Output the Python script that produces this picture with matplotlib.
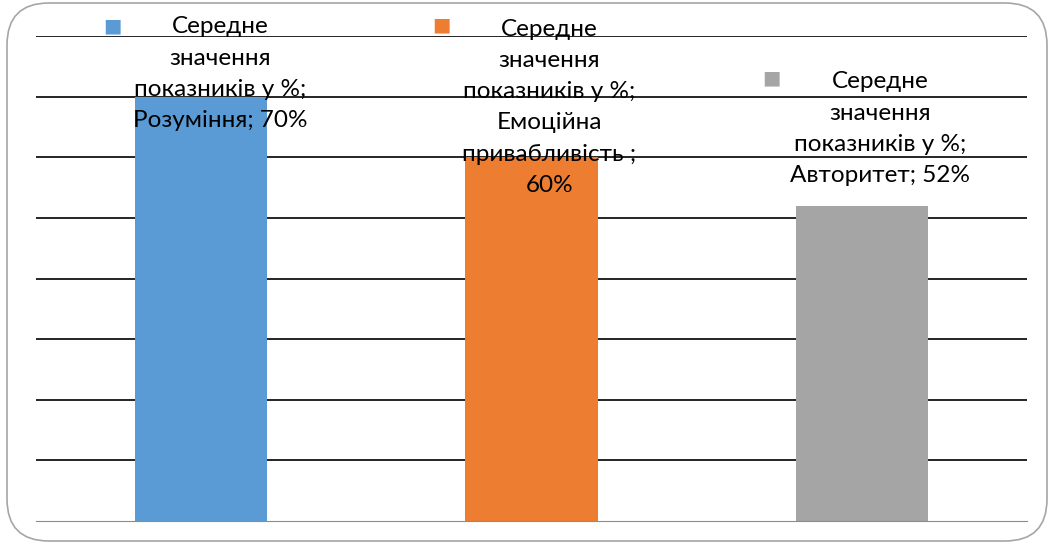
import numpy as np
import matplotlib.pyplot as plt
from matplotlib.patches import FancyBboxPatch

# Дані діаграми
categories = ["Розуміння", "Емоційна привабливість", "Авторитет"]
values = [70, 60, 52]
series_name = "Середне значення показників у %"
labels = [
    "Середне\nзначення\nпоказників у %;\nРозуміння; 70%",
    "Середне\nзначення\nпоказників у %;\nЕмоційна\nпривабливість ;\n60%",
    "Середне\nзначення\nпоказників у %;\nАвторитет; 52%",
]
colors = ["#5B9BD5", "#ED7D31", "#A5A5A5"]

# зсуви підписів відносно верхівки стовпчика (в пікселях)
label_off = [(19, 23), (18, 50), (18, 77)]
key_off = [(-89, 71), (-90, 132), (-90, 128)]

plt.rcParams['font.family'] = ['Lato', 'DejaVu Sans']

fig = plt.figure(figsize=(10.5, 5.46), dpi=100)
ax = fig.add_axes([36/1050, 1-521/546, 991/1050, 485/546])

x = np.arange(len(categories))
ax.bar(x, values, width=0.4, color=colors, zorder=2)

ax.set_xlim(-0.5, len(categories)-0.5)
ax.set_ylim(0, 80)
ax.set_yticks(np.arange(10, 81, 10))
ax.yaxis.grid(True, color="black", lw=1.2, zorder=1)
ax.set_axisbelow(True)
for s in ["left", "right", "top"]:
    ax.spines[s].set_visible(False)
ax.spines["bottom"].set_color("#8c8c8c")
ax.spines["bottom"].set_zorder(3)
ax.tick_params(left=False, bottom=False, labelleft=False, labelbottom=False)

px = 72/100  # пікселі -> пункти
for i in range(len(values)):
    dx, dy = label_off[i]
    ax.annotate(labels[i], xy=(x[i], values[i]), xytext=(dx*px, dy*px),
                textcoords="offset points", ha="center", va="center",
                fontsize=17.5, linespacing=1.6, color="black", zorder=4)
    kx, ky = key_off[i]
    ax.annotate("■", xy=(x[i], values[i]), xytext=(kx*px, ky*px),
                textcoords="offset points", ha="center", va="center",
                fontsize=14, color=colors[i], family="DejaVu Sans", zorder=4)

# рамка з округленими кутами
border = FancyBboxPatch((7/1050, 5/546), 1040/1050, 538/546,
                        boxstyle="round,pad=0,rounding_size=0.04",
                        transform=fig.transFigure, fill=False,
                        edgecolor="#a6a6a6", lw=1.2, mutation_aspect=1050/546)
fig.patches.append(border)

fig.savefig("out.png", dpi=100)
